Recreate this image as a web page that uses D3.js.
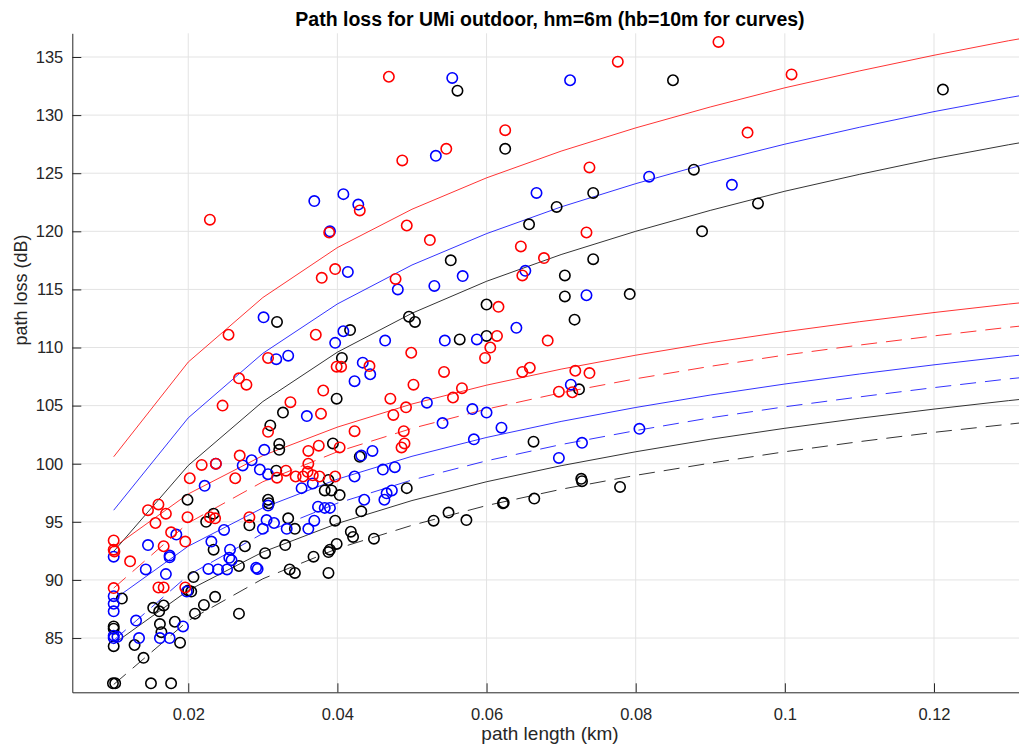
<!DOCTYPE html>
<html><head><meta charset="utf-8">
<script src="https://cdn.jsdelivr.net/npm/d3@7"></script>
<style>body{margin:0;background:#fff}svg{display:block}text{font-family:"Liberation Sans",Arial,Helvetica,sans-serif}</style>
</head><body><svg id="c" width="1019" height="746"></svg>
<script>
const titleText = "Path loss for UMi outdoor, hm=6m (hb=10m for curves)";
const xLabel = "path length (km)";
const yLabel = "path loss (dB)";
const xTicks = [0.02, 0.04, 0.06, 0.08, 0.1, 0.12];
const xTickLabels = ["0.02", "0.04", "0.06", "0.08", "0.1", "0.12"];
const yTicks = [85, 90, 95, 100, 105, 110, 115, 120, 125, 130, 135];
const xDomain = [0.00445, 0.1314];
const yDomain = [80.33, 137.04];

// curve distances (km)
const curveD = [0.01,0.02,0.03,0.04,0.05,0.06,0.07,0.08,0.09,0.10,0.11,0.12,0.13,0.14];
const upperRed   = [100.6,108.75,114.3,118.6,121.9,124.6,126.9,128.9,130.7,132.35,133.8,135.15,136.4,137.5];
const upperBlue  = [96.0,103.95,109.5,113.75,117.1,119.8,122.1,124.1,125.9,127.5,128.95,130.3,131.5,132.6];
const upperBlack = [92.45,99.85,105.35,109.6,112.95,115.7,118.0,120.0,121.8,123.45,124.9,126.25,127.45,128.55];
const lowRed     = [92.8,97.4,100.7,103.15,105.14,106.76,108.14,109.34,110.41,111.36,112.22,113.01,113.74,114.4];
const lowRedDash = [89.3,94.9,98.45,101.03,103.04,104.7,106.1,107.31,108.38,109.35,110.21,111.0,111.74,112.4];
const lowBlue    = [88.3,92.9,96.2,98.67,100.64,102.26,103.64,104.84,105.91,106.86,107.72,108.51,109.24,109.9];
const lowBlueDash= [84.8,90.4,94.0,96.6,98.6,100.25,101.65,102.85,103.95,104.9,105.75,106.55,107.3,107.95];
const lowBlack   = [84.5,89.1,92.4,94.86,96.83,98.45,99.83,101.03,102.1,103.05,103.91,104.7,105.43,106.1];
const lowBlackDash=[81.0,86.5,90.1,92.7,94.7,96.4,97.8,99.0,100.05,101.03,101.9,102.7,103.4,104.1];

// measured points [km, dB]
const redPts = [
[0.0229,121.0],[0.0469,133.3],[0.0487,126.1],[0.0546,127.1],[0.0625,128.7],[0.0776,134.6],[0.0911,136.3],[0.1009,133.5],
[0.0950,128.5],[0.0738,125.5],[0.0430,121.8],[0.0493,120.5],[0.0524,119.25],[0.0734,119.9],[0.0646,118.7],[0.0389,119.9],
[0.0677,117.7],[0.0397,116.75],[0.0648,116.2],[0.0478,115.9],[0.0616,113.5],[0.0614,111.0],[0.0682,110.6],[0.0605,110.0],
[0.0598,109.1],[0.0499,109.55],[0.0399,108.35],[0.0405,108.35],[0.0443,108.4],[0.0543,107.9],[0.0648,107.9],[0.0658,108.26],
[0.0719,108.0],[0.0738,107.8],[0.0697,106.2],[0.0715,106.15],[0.0502,106.8],[0.0567,106.5],[0.0555,105.7],[0.0471,105.6],
[0.0492,104.85],[0.0475,104.2],[0.0423,102.8],[0.0489,102.8],[0.0490,101.75],[0.0486,101.4],[0.0403,101.4],[0.0397,98.9],
[0.0379,116.0],[0.0254,111.1],[0.0371,111.1],[0.0307,109.1],[0.0268,107.35],[0.0278,106.8],[0.0381,106.3],[0.0246,105.0],
[0.0337,105.3],[0.0378,104.3],[0.0307,102.75],[0.0375,101.55],[0.0361,101.1],[0.0269,100.7],[0.0218,99.9],[0.0237,100.0],
[0.0263,98.75],[0.0319,98.8],[0.0331,99.4],[0.0344,98.9],[0.0354,98.9],[0.0361,100.0],[0.0360,99.3],[0.0367,99.0],
[0.0376,98.9],[0.0282,95.4],[0.0229,95.4],[0.0236,95.3],[0.0100,93.4],[0.0100,92.6],[0.0101,92.45],[0.0122,91.6],
[0.0100,89.3],[0.0146,96.0],[0.0160,96.5],[0.0170,95.7],[0.0156,94.9],[0.0177,94.1],[0.0196,93.3],[0.0167,92.9],
[0.0160,89.35],[0.0167,89.35],[0.0196,89.35],[0.0199,95.4],[0.0202,98.75]
];
const bluePts = [
[0.0390,120.0],[0.0369,122.6],[0.0408,123.2],[0.0428,122.3],[0.0554,133.2],[0.0712,133.0],[0.0532,126.5],[0.0667,123.3],
[0.0818,124.7],[0.0929,124.0],[0.0414,116.5],[0.0652,116.6],[0.0568,116.15],[0.0481,115.0],[0.0530,115.3],[0.0734,114.5],
[0.0640,111.7],[0.0408,111.4],[0.0397,110.4],[0.0464,110.6],[0.0544,110.6],[0.0587,110.7],[0.0434,108.7],[0.0444,107.7],
[0.0423,107.1],[0.0713,106.8],[0.0520,105.25],[0.0581,104.7],[0.0600,104.4],[0.0620,103.1],[0.0805,103.0],[0.0541,103.5],
[0.0583,102.1],[0.0728,101.8],[0.0697,100.5],[0.0432,100.7],[0.0447,101.1],[0.0461,99.5],[0.0477,99.7],[0.0423,98.9],
[0.0473,97.7],[0.0466,97.45],[0.0463,96.9],[0.0436,96.9],[0.0390,96.2],[0.0301,112.6],[0.0318,109.0],[0.0334,109.3],
[0.0359,104.1],[0.0302,101.2],[0.0285,100.3],[0.0237,100.0],[0.0273,99.85],[0.0296,99.5],[0.0307,99.1],[0.0222,98.1],
[0.0352,97.9],[0.0367,98.3],[0.0307,96.4],[0.0374,96.3],[0.0383,96.2],[0.0305,95.15],[0.0315,94.9],[0.0332,94.4],
[0.0300,94.4],[0.0361,94.4],[0.0369,95.1],[0.0248,94.3],[0.0231,93.3],[0.0256,92.6],[0.0255,91.9],[0.0258,91.7],
[0.0227,90.95],[0.0240,90.9],[0.0252,90.9],[0.0291,91.05],[0.0293,90.95],[0.0100,92.0],[0.0100,88.6],[0.0100,87.95],
[0.0100,87.3],[0.0100,85.2],[0.0100,85.0],[0.0105,85.1],[0.0130,86.5],[0.0134,85.0],[0.0162,85.0],[0.0175,85.0],
[0.0193,86.0],[0.0143,90.9],[0.0170,90.5],[0.0146,93.0],[0.0175,92.1],[0.0175,91.95],[0.0184,93.9],[0.0198,89.0]
];
const blackPts = [
[0.0561,132.1],[0.0850,133.0],[0.1212,132.2],[0.0625,127.1],[0.0743,123.3],[0.0694,122.1],[0.0657,120.6],[0.0878,125.3],
[0.0964,122.4],[0.0889,120.0],[0.0552,117.5],[0.0743,117.6],[0.0705,116.2],[0.0792,114.6],[0.0705,114.4],[0.0600,113.7],
[0.0496,112.65],[0.0504,112.2],[0.0718,112.4],[0.0417,111.5],[0.0564,110.7],[0.0600,111.0],[0.0406,109.1],[0.0724,106.4],
[0.0663,101.9],[0.0394,101.75],[0.0430,100.6],[0.0727,98.7],[0.0493,97.9],[0.0403,97.3],[0.0392,97.7],[0.0432,95.9],
[0.0397,95.1],[0.0529,95.1],[0.0549,95.8],[0.0573,95.15],[0.0622,96.6],[0.0623,96.65],[0.0664,97.0],[0.0728,98.5],
[0.0779,98.0],[0.0418,94.15],[0.0421,93.7],[0.0399,93.1],[0.0449,93.55],[0.0390,92.6],[0.0388,90.6],[0.0319,112.2],
[0.0399,105.6],[0.0327,104.4],[0.0310,103.3],[0.0322,101.7],[0.0322,101.2],[0.0318,99.4],[0.0383,97.7],[0.0388,98.6],
[0.0307,96.9],[0.0308,96.6],[0.0334,95.3],[0.0343,94.4],[0.0282,94.7],[0.0234,95.7],[0.0224,95.0],[0.0234,92.6],
[0.0276,92.9],[0.0268,91.2],[0.0303,92.3],[0.0330,93.0],[0.0368,92.0],[0.0388,92.4],[0.0336,90.9],[0.0343,90.6],
[0.0236,88.55],[0.0268,87.1],[0.0100,86.0],[0.0100,85.8],[0.0100,84.3],[0.0099,81.1],[0.0102,81.1],[0.0111,88.4],
[0.0150,81.1],[0.0177,81.1],[0.0140,83.3],[0.0128,84.4],[0.0189,84.6],[0.0162,86.2],[0.0164,85.5],[0.0182,86.4],
[0.0153,87.6],[0.0161,87.3],[0.0167,87.8],[0.0199,96.9],[0.0200,89.1],[0.0204,89.0],[0.0207,90.25],[0.0209,87.1],[0.0221,87.85]
];

const W = 1019, H = 746;
const plotL = 72.3, plotR = 1019, plotT = 33.3, plotB = 692.3;
const svg = d3.select("#c");
const x = d3.scaleLinear().domain(xDomain).range([plotL, plotR]);
const y = d3.scaleLinear().domain(yDomain).range([plotB, plotT]);
const axisCol = "#262626", gridCol = "#e3e3e3";

svg.append("defs").append("clipPath").attr("id","clip").append("rect")
  .attr("x", plotL).attr("y", plotT).attr("width", plotR-plotL).attr("height", plotB-plotT);

// grid
const g = svg.append("g");
g.selectAll("line.gx").data(xTicks).join("line").attr("x1",d=>x(d)).attr("x2",d=>x(d))
  .attr("y1",plotT).attr("y2",plotB).attr("stroke",gridCol).attr("stroke-width",1);
g.selectAll("line.gy").data(yTicks).join("line").attr("y1",d=>y(d)).attr("y2",d=>y(d))
  .attr("x1",plotL).attr("x2",plotR).attr("stroke",gridCol).attr("stroke-width",1);

// curves
const plotG = svg.append("g").attr("clip-path","url(#clip)");
const line = d3.line().x((d,i)=>x(curveD[i])).y(d=>y(d));
const curves = [
  [upperRed,"#ff0000",null],[upperBlue,"#0000ff",null],[upperBlack,"#000000",null],
  [lowRed,"#ff0000",null],[lowBlue,"#0000ff",null],[lowBlack,"#000000",null],
  [lowRedDash,"#ff0000","16,9"],[lowBlueDash,"#0000ff","16,9"],[lowBlackDash,"#000000","16,9"]
];
curves.forEach(([vals,col,dash])=>{
  plotG.append("path").attr("d",line(vals)).attr("fill","none").attr("stroke",col)
    .attr("stroke-width",0.8).attr("stroke-dasharray",dash);
});

// points
[[blackPts,"#000000"],[bluePts,"#0000ff"],[redPts,"#ff0000"]].forEach(([pts,col])=>{
  plotG.append("g").selectAll("circle").data(pts).join("circle")
    .attr("cx",d=>x(d[0])).attr("cy",d=>y(d[1])).attr("r",5.2)
    .attr("fill","none").attr("stroke",col).attr("stroke-width",1.6);
});

// axes
const ax = svg.append("g").attr("transform",`translate(0,${plotB})`)
  .call(d3.axisBottom(x).tickValues(xTicks).tickFormat((d,i)=>xTickLabels[i]).tickSizeInner(-9).tickSizeOuter(0).tickPadding(16));
const ay = svg.append("g").attr("transform",`translate(${plotL},0)`)
  .call(d3.axisLeft(y).tickValues(yTicks).tickSizeInner(-9).tickSizeOuter(0).tickPadding(9));
[ax,ay].forEach(a=>{
  a.select(".domain").attr("stroke",axisCol).attr("stroke-width",1);
  a.selectAll(".tick line").attr("stroke",axisCol);
  a.selectAll(".tick text").attr("fill",axisCol).style("font-size","16.5px");
});

svg.append("text").attr("x",550).attr("y",26).attr("text-anchor","middle")
  .style("font-size","19.5px").style("font-weight","bold").attr("fill","#000").text(titleText);
svg.append("text").attr("x",550).attr("y",740).attr("text-anchor","middle")
  .style("font-size","19px").attr("fill",axisCol).text(xLabel);
svg.append("text").attr("transform","translate(27,290) rotate(-90)").attr("text-anchor","middle")
  .style("font-size","18px").attr("fill",axisCol).text(yLabel);
</script></body></html>
